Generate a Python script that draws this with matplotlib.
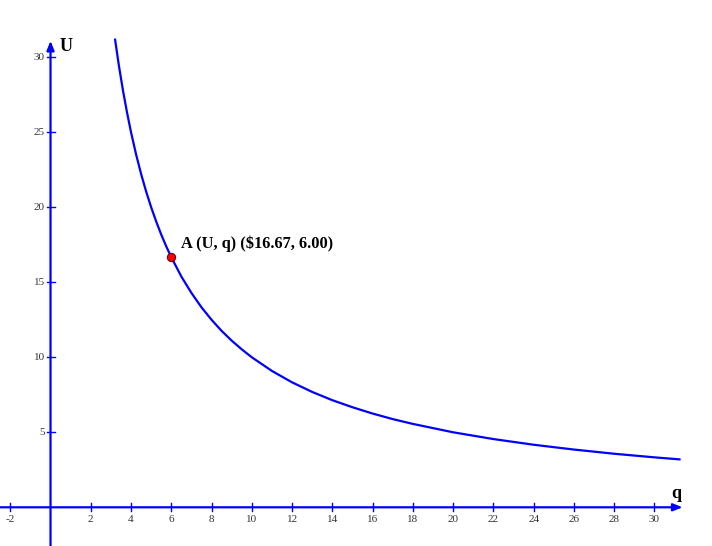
import matplotlib.pyplot as plt

# values
q_vals = [3.2, 3.4, 3.6, 3.8, 4.0, 4.25, 4.5, 4.75, 5.0, 5.25, 5.5, 5.75, 6.0, 6.5,
          7.0, 7.5, 8.0, 8.5, 9.0, 9.5, 10.0, 11.0, 12.0, 13.0, 14.0, 15.0, 16.0,
          17.0, 18.0, 20.0, 22.0, 24.0, 26.0, 28.0, 30.0, 31.3]
u_vals = [31.25, 29.41, 27.78, 26.32, 25.0, 23.53, 22.22, 21.05, 20.0, 19.05, 18.18,
          17.39, 16.67, 15.38, 14.29, 13.33, 12.5, 11.76, 11.11, 10.53, 10.0, 9.09,
          8.33, 7.69, 7.14, 6.67, 6.25, 5.88, 5.56, 5.0, 4.55, 4.17, 3.85, 3.57,
          3.33, 3.19]
point_q, point_u = 6.0, 16.67
point_label = "A (U, q) ($16.67, 6.00)"
x_ticks = [-2, 2, 4, 6, 8, 10, 12, 14, 16, 18, 20, 22, 24, 26, 28, 30]
y_ticks = [5, 10, 15, 20, 25, 30]

BLUE = "#0000FF"
SERIF = "Liberation Serif"

fig = plt.figure(figsize=(7.12, 5.46), dpi=100)
ax = fig.add_axes([0, 0, 1, 1])
ax.set_xlim(-2.51, 32.86)
ax.set_ylim(-2.58, 33.82)
ax.axis("off")

# axes with arrow heads
arrow = dict(arrowstyle="-|>,head_length=0.55,head_width=0.22",
             color=BLUE, lw=1.6, shrinkA=0, shrinkB=0)
ax.annotate("", xy=(31.4, 0), xytext=(-2.6, 0), arrowprops=arrow)
ax.annotate("", xy=(0, 31.1), xytext=(0, -2.7), arrowprops=arrow)

# tick marks and labels
for t in x_ticks:
    ax.plot([t, t], [-0.27, 0.27], color=BLUE, lw=1.0)
    ax.text(t, -0.5, str(t), ha="center", va="top", fontsize=8,
            family=SERIF, color="#333333")
for t in y_ticks:
    ax.plot([-0.2, 0.2], [t, t], color=BLUE, lw=1.0)
    ax.text(-0.28, t, str(t), ha="right", va="center", fontsize=8,
            family=SERIF, color="#333333")

ax.text(0.45, 30.75, "U", fontsize=13, fontweight="bold", family=SERIF,
        ha="left", va="center")
ax.text(31.07, 0.95, "q", fontsize=13, fontweight="bold", family=SERIF,
        ha="center", va="center")

ax.plot(q_vals, u_vals, color=BLUE, lw=1.6, solid_capstyle="butt")
ax.plot(point_q, point_u, "o", color="red", markeredgecolor="#550000",
        markersize=6, markeredgewidth=0.7, zorder=5)
ax.text(6.5, 17.6, point_label, fontsize=11.8, fontweight="bold",
        family=SERIF, ha="left", va="center")

fig.savefig("out.png", dpi=100)
